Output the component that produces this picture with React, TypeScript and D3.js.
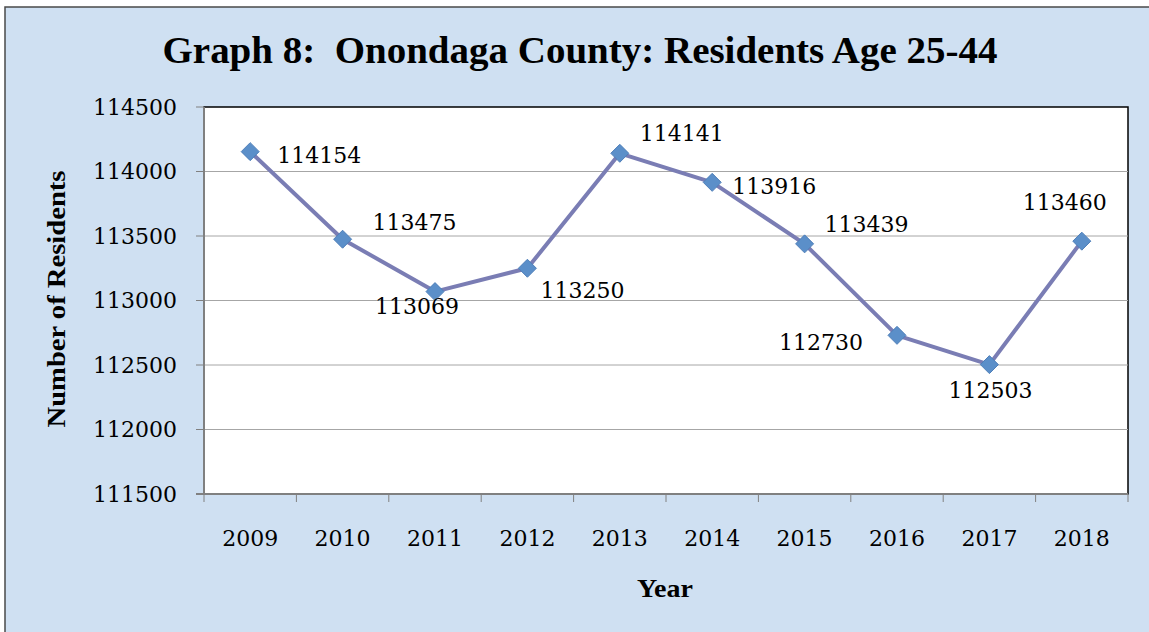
import * as React from 'react';
import * as d3 from 'd3';

const years = ['2009', '2010', '2011', '2012', '2013', '2014', '2015', '2016', '2017', '2018'];
const residents = [114154, 113475, 113069, 113250, 114141, 113916, 113439, 112730, 112503, 113460];
// where each data label sits relative to its marker
const labelSpots = ['right', 'aboveRight', 'belowLeft', 'belowRight', 'upRight', 'nearRight', 'upRight', 'left', 'below', 'aboveLeft'];
const yTicks = [111500, 112000, 112500, 113000, 113500, 114000, 114500];

const W = 1149;
const H = 632;
const plot = { left: 204, top: 107, right: 1128, bottom: 494 };
const numFont = '"DejaVu Serif", serif';
const boldFont = '"Liberation Serif", serif';

const spotOffset: Record<string, [number, number, string]> = {
  right: [27, 3, 'start'],
  nearRight: [20, 4, 'start'],
  aboveRight: [30, -17, 'start'],
  upRight: [20, -20, 'start'],
  belowLeft: [-18, 14, 'middle'],
  belowRight: [13, 22, 'start'],
  left: [-34, 7, 'end'],
  below: [1, 25, 'middle'],
  aboveLeft: [-17, -39, 'middle'],
};

export default function App() {
  const x = d3.scaleBand<string>().domain(years).range([plot.left, plot.right]);
  const y = d3.scaleLinear().domain([111500, 114500]).range([plot.bottom, plot.top]);
  const line = d3
    .line<number>()
    .x((_, i) => (x(years[i]) || 0) + x.bandwidth() / 2)
    .y((d) => y(d));
  const bounds = [...years.map((yr) => x(yr) || 0), plot.right];

  return (
    <svg width={W} height={H} style={{ position: 'absolute', left: 0, top: 0 }}>
      <rect x={0} y={0} width={W} height={H} fill="#ffffff" />
      <rect x={5} y={7} width={W + 10} height={H + 10} fill="#cfe0f2" stroke="#4a4a4a" strokeWidth={1.5} />
      <text x={580} y={63} textAnchor="middle" fontFamily={boldFont} fontWeight="bold" fontSize={37}
        textLength={835} lengthAdjust="spacingAndGlyphs" style={{ whiteSpace: 'pre' }}>
        {'Graph 8:  Onondaga County: Residents Age 25-44'}
      </text>

      <rect x={plot.left} y={plot.top} width={plot.right - plot.left} height={plot.bottom - plot.top} fill="#ffffff" stroke="#000" strokeWidth={1.5} />
      {yTicks.slice(1, -1).map((t) => (
        <line key={t} x1={plot.left} x2={plot.right} y1={y(t)} y2={y(t)} stroke="#a6a6a6" strokeWidth={1} />
      ))}
      <line x1={plot.left} x2={plot.left} y1={plot.top} y2={plot.bottom} stroke="#808080" strokeWidth={2} />
      <line x1={plot.left - 8} x2={plot.right} y1={plot.bottom} y2={plot.bottom} stroke="#808080" strokeWidth={2} />
      {yTicks.map((t) => (
        <g key={t}>
          <line x1={plot.left - 8} x2={plot.left} y1={y(t)} y2={y(t)} stroke="#808080" strokeWidth={1} />
          <text x={plot.left - 27} y={y(t)} dy="0.36em" textAnchor="end" fontFamily={numFont} fontSize={22} fill="#000">
            {t}
          </text>
        </g>
      ))}
      {bounds.map((b, i) => (
        <line key={i} x1={b} x2={b} y1={plot.bottom} y2={plot.bottom + 8} stroke="#808080" strokeWidth={1} />
      ))}
      {years.map((yr) => (
        <text key={yr} x={(x(yr) || 0) + x.bandwidth() / 2} y={546} textAnchor="middle" fontFamily={numFont} fontSize={22}>
          {yr}
        </text>
      ))}

      <path d={line(residents) || ''} fill="none" stroke="#7a7db4" strokeWidth={4} strokeLinejoin="round" />
      {residents.map((v, i) => {
        const cx = (x(years[i]) || 0) + x.bandwidth() / 2;
        const cy = y(v);
        const [dx, dy, anchor] = spotOffset[labelSpots[i]];
        return (
          <g key={i}>
            <path d={`M${cx},${cy - 9}L${cx + 9},${cy}L${cx},${cy + 9}L${cx - 9},${cy}Z`} fill="#5b8fc9" stroke="#4f7fb9" strokeWidth={1} />
            <text x={cx + dx} y={cy + dy} dy="0.36em" textAnchor={anchor} fontFamily={numFont} fontSize={22}>
              {v}
            </text>
          </g>
        );
      })}

      <text transform="translate(65,299) rotate(-90)" textAnchor="middle" fontFamily={boldFont} fontWeight="bold" fontSize={26}
        textLength={257} lengthAdjust="spacingAndGlyphs">
        Number of Residents
      </text>
      <text x={665} y={597} textAnchor="middle" fontFamily={boldFont} fontWeight="bold" fontSize={26}
        textLength={56} lengthAdjust="spacingAndGlyphs">
        Year
      </text>
    </svg>
  );
}
